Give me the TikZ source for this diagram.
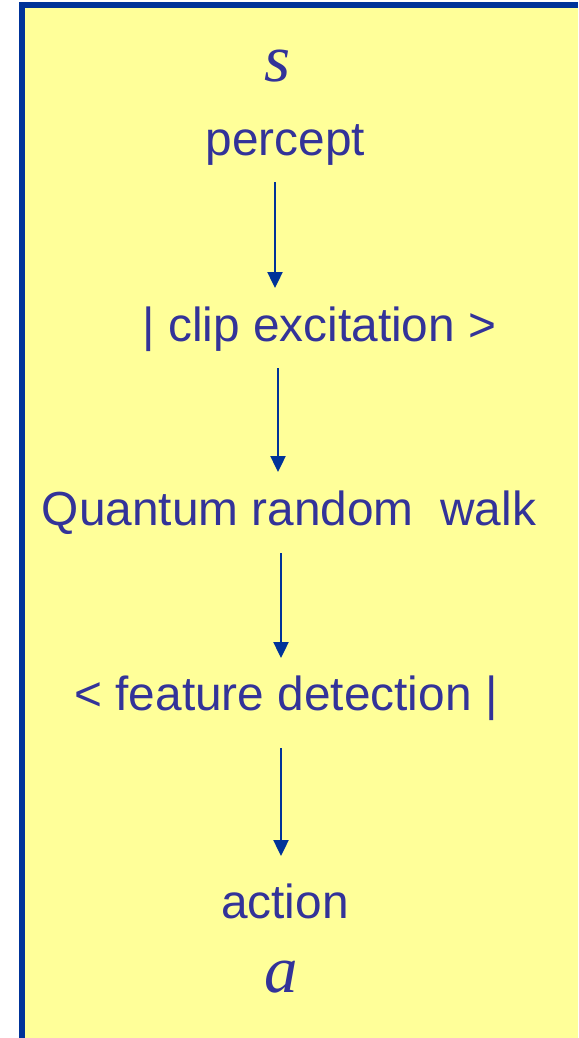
\documentclass[tikz,border=0pt]{standalone}
\usepackage{fontspec}
\setmainfont{Liberation Sans}
\newfontfamily\varfont{Liberation Serif}
\usetikzlibrary{arrows.meta}
\definecolor{panelyellow}{HTML}{FFFF99}
\definecolor{framebl}{HTML}{003399}
\definecolor{textbl}{HTML}{333399}
\begin{document}
\begin{tikzpicture}[x=1pt,y=-1pt,
  label/.style={inner sep=0pt,anchor=base,text=textbl,font=\fontsize{47.8}{52}\selectfont},
  var/.style={inner sep=0pt,anchor=base,text=textbl,font=\varfont\itshape\fontsize{67}{70}\selectfont},
  flow/.style={draw=framebl,line width=2.4pt,-{Triangle[width=15pt,length=16pt]}}]
  % page and panel
  \useasboundingbox (0,0) rectangle (578,1038);
  \fill[white] (0,0) rectangle (578,1038);
  \fill[framebl] (19,2) rectangle (578,1038);
  \fill[panelyellow] (25,8) rectangle (578,1038);
  % labels
  \node[var]   (s)       at (278,82)  {s};
  \node[label] (percept) at (285.5,155) {percept};
  \node[label] (clip)    at (319.5,341) {| clip excitation >};
  \node[label] (walk)    at (289,525) {Quantum random \ walk};
  \node[label] (feat)    at (286,710) {< feature detection |};
  \node[label] (action)  at (285,918) {action};
  \node[var]   (a)       at (281,992) {a};
  % arrow end points
  \coordinate (p1) at (275,182); \coordinate (q1) at (275,288);
  \coordinate (p2) at (278,368); \coordinate (q2) at (278,472);
  \coordinate (p3) at (281,553); \coordinate (q3) at (281,658);
  \coordinate (p4) at (281,748); \coordinate (q4) at (281,856);
  \draw[flow] (p1) -- (q1);
  \draw[flow] (p2) -- (q2);
  \draw[flow] (p3) -- (q3);
  \draw[flow] (p4) -- (q4);
\end{tikzpicture}
\end{document}
